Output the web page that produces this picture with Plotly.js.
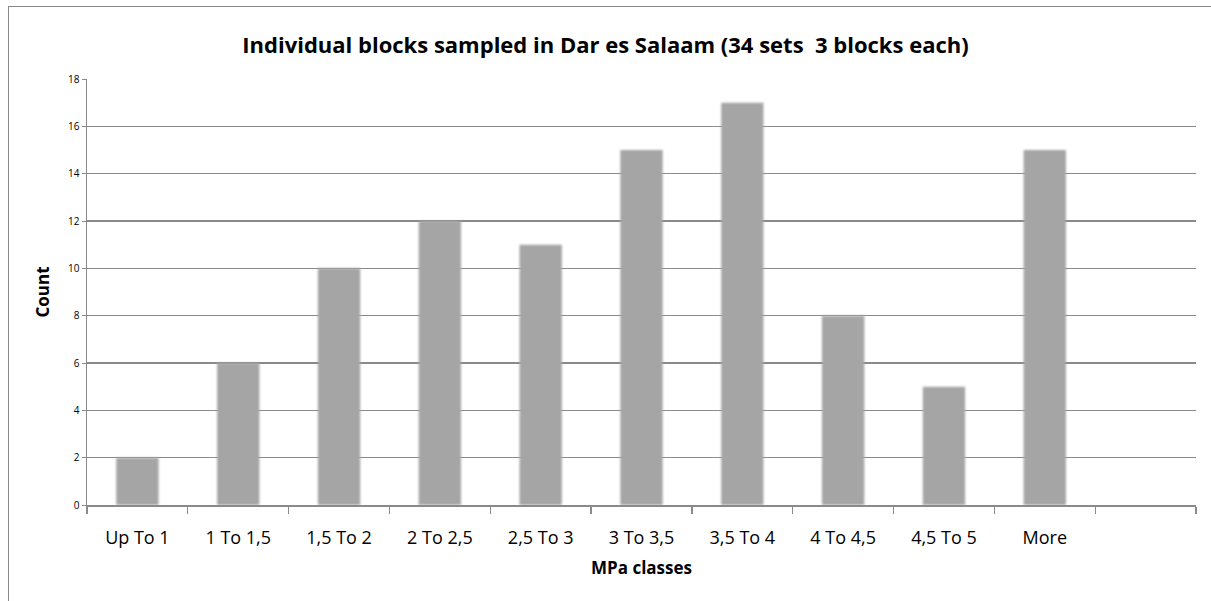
<!DOCTYPE html>
<html>
<head>
<meta charset="utf-8">
<script src="https://cdn.plot.ly/plotly-3.0.1.min.js"></script>
<style>
  html, body { margin: 0; padding: 0; background: #fff; }
  #wrap { position: relative; width: 1211px; height: 601px; }
  #chart { position: absolute; left: 0; top: 0; width: 1211px; height: 601px; }
  #frame { position: absolute; left: 8px; top: 6px; right: 0; bottom: -2px;
           border-left: 1.5px solid #8a8a8a; border-top: 1.5px solid #8a8a8a;
           pointer-events: none; }
  .bars path { filter: blur(1.2px); }
</style>
</head>
<body>
<div id="wrap">
  <div id="chart"></div>
  <div id="frame"></div>
</div>
<script>
const categories = ["Up To 1", "1 To 1,5", "1,5 To 2", "2 To 2,5", "2,5 To 3",
                    "3 To 3,5", "3,5 To 4", "4 To 4,5", "4,5 To 5", "More"];
const counts = [2, 6, 10, 12, 11, 15, 17, 8, 5, 15];
const yTicks = [0, 2, 4, 6, 8, 10, 12, 14, 16, 18];
const chartTitle = "Individual blocks sampled in Dar es Salaam (34 sets \u00a03 blocks each)";
const xTitle = "MPa classes";
const yTitle = "Count";

// an empty trailing slot, as in the reference
const xCats = categories.concat([" "]);
const yVals = counts.concat([null]);

const trace = {
  type: "bar",
  x: xCats,
  y: yVals,
  marker: { color: "#a5a5a5", line: { width: 0 } },
  hoverinfo: "x+y"
};

const layout = {
  width: 1211,
  height: 601,
  margin: { l: 87, r: 15, t: 79, b: 96 },
  paper_bgcolor: "rgba(0,0,0,0)",
  plot_bgcolor: "#fff",
  bargap: 0.58,
  showlegend: false,
  font: { family: "Open Sans, DejaVu Sans, sans-serif", color: "#000" },
  title: {
    text: "<b>" + chartTitle + "</b>",
    font: { family: "Open Sans, sans-serif", size: 22, color: "#000" },
    x: 0.5, xanchor: "center",
    y: 1 - 45 / 601, yref: "container", yanchor: "middle"
  },
  xaxis: {
    type: "category",
    categoryorder: "array",
    categoryarray: xCats,
    range: [-0.5, 10.5],
    tickson: "boundaries",
    ticks: "outside",
    ticklen: 7,
    tickcolor: "#8a8a8a",
    tickwidth: 1.2,
    showline: true,
    linecolor: "#8a8a8a",
    linewidth: 1.5,
    showgrid: false,
    zeroline: false,
    ticklabelstandoff: 16,
    tickfont: { family: "Open Sans, sans-serif", size: 18, color: "#000" },
    title: {
      text: "<b>" + xTitle + "</b>",
      font: { family: "Open Sans, sans-serif", size: 17, color: "#000" },
      standoff: 14
    }
  },
  yaxis: {
    range: [0, 18],
    tickvals: yTicks,
    ticktext: yTicks.map(String),
    ticks: "outside",
    ticklen: 4,
    tickcolor: "#8a8a8a",
    showline: true,
    linecolor: "#8a8a8a",
    linewidth: 1.5,
    showgrid: true,
    gridcolor: "#8a8a8a",
    gridwidth: 1.2,
    zeroline: false,
    tickfont: { family: "Open Sans, sans-serif", size: 10, color: "#000" },
    title: {
      text: "<b>" + yTitle + "</b>",
      font: { family: "Open Sans, sans-serif", size: 17, color: "#000" },
      standoff: 14
    }
  }
};

Plotly.newPlot("chart", [trace], layout, { displayModeBar: false, staticPlot: true });
</script>
</body>
</html>
